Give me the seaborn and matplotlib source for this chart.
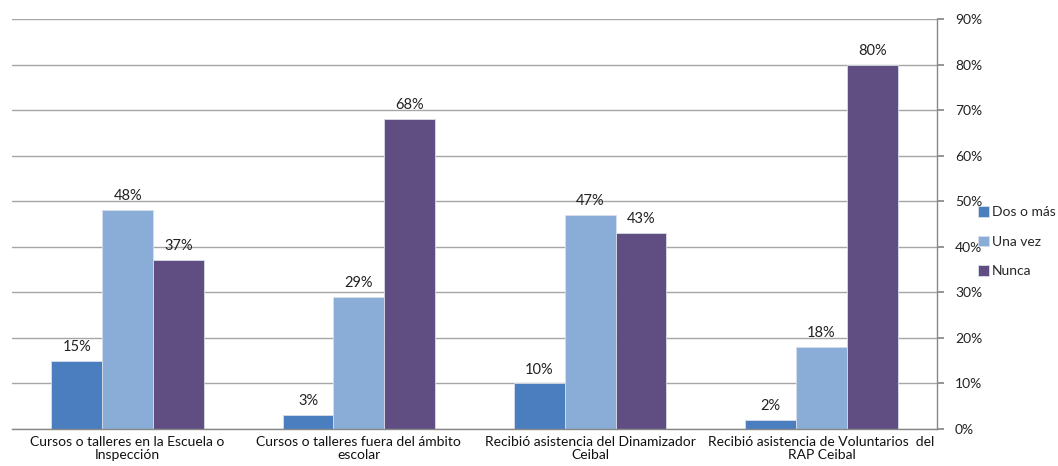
import matplotlib
matplotlib.use("Agg")
import matplotlib.pyplot as plt
import seaborn as sns
import pandas as pd

categories = [
    "Cursos o talleres en la Escuela o\nInspección",
    "Cursos o talleres fuera del ámbito\nescolar",
    "Recibió asistencia del Dinamizador\nCeibal",
    "Recibió asistencia de Voluntarios  del\nRAP Ceibal",
]
series = ["Dos o más", "Una vez", "Nunca"]
dos_o_mas = [15, 3, 10, 2]
una_vez = [48, 29, 47, 18]
nunca = [37, 68, 43, 80]
colors = ["#4A7EBE", "#8AADD7", "#604E83"]
yticks = [0, 10, 20, 30, 40, 50, 60, 70, 80, 90]

rows = []
for s, vals in zip(series, [dos_o_mas, una_vez, nunca]):
    for c, v in zip(categories, vals):
        rows.append({"cat": c, "serie": s, "val": v})
df = pd.DataFrame(rows)

sns.set_theme(style="white")
plt.rcParams["font.family"] = ["Lato", "DejaVu Sans"]

fig = plt.figure(figsize=(10.58, 4.66), dpi=100)
ax = fig.add_axes([12/1058, 1-429/466, (937-12)/1058, (429-19)/466])

sns.barplot(data=df, x="cat", y="val", hue="serie", palette=colors,
            width=0.66, saturation=1, ax=ax, legend=True,
            edgecolor="#D8DDEA", linewidth=0.6)

ax.set_ylim(0, 90)
ax.set_xlim(-0.5, 3.5)
ax.set_yticks(yticks)
ax.set_yticklabels([f"{t}%" for t in yticks])
ax.yaxis.tick_right()
ax.tick_params(axis="y", which="both", right=True, length=5, color="#888888",
               labelsize=10, pad=8, labelcolor="#222222")
ax.tick_params(axis="x", length=0, labelsize=10, pad=5, labelcolor="#111111")
for lbl in ax.get_xticklabels():
    lbl.set_linespacing(1.15)
ax.set_xlabel("")
ax.set_ylabel("")
ax.grid(axis="y", color="#A6A6A6", linewidth=1)
ax.set_axisbelow(True)
for side in ["left", "top"]:
    ax.spines[side].set_visible(False)
for side in ["right", "bottom"]:
    ax.spines[side].set_color("#888888")
    ax.spines[side].set_linewidth(1)

for cont in ax.containers:
    ax.bar_label(cont, labels=[f"{int(round(v))}%" for v in cont.datavalues],
                 padding=5, fontsize=10.5, color="#222222")

handles, labels = ax.get_legend_handles_labels()
ax.get_legend().remove()
fig.legend(handles, labels, loc="upper left", bbox_to_anchor=(978/1058, 1-206/466),
           frameon=False, fontsize=10, handlelength=0.8, handleheight=0.8,
           handletextpad=0.2, labelspacing=1.25, borderaxespad=0, borderpad=0)

fig.savefig("out.png", dpi=100)
